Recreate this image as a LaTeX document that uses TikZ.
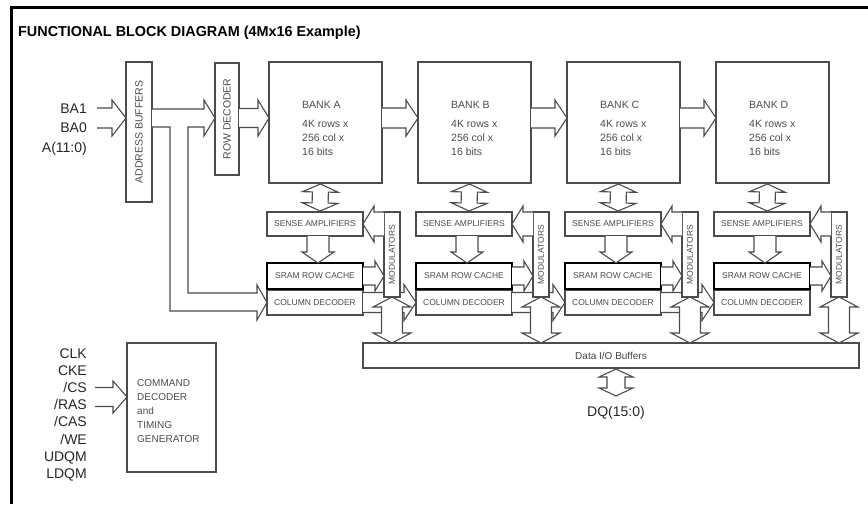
\documentclass[tikz,border=0pt]{standalone}
\usepackage{fontspec}
\setmainfont{Liberation Sans}
\usetikzlibrary{calc}

% hollow bus arrows: from, to, shaft half width, head half width, head length
\newcommand{\busarrow}[5]{%
  \coordinate (ba) at #1; \coordinate (bb) at #2;
  \coordinate (bh) at ($(bb)!#5!(ba)$);
  \filldraw[bus] ($(ba)!#3!90:(bb)$) -- ($(bh)!#3!90:(bb)$) -- ($(bh)!#4!90:(bb)$) -- (bb)
    -- ($(bh)!#4!-90:(bb)$) -- ($(bh)!#3!-90:(bb)$) -- ($(ba)!#3!-90:(bb)$);
}
\newcommand{\dbusarrow}[5]{%
  \coordinate (ba) at #1; \coordinate (bb) at #2;
  \coordinate (bg) at ($(ba)!#5!(bb)$);
  \coordinate (bh) at ($(bb)!#5!(ba)$);
  \filldraw[bus] (ba) -- ($(bg)!#4!90:(bb)$) -- ($(bg)!#3!90:(bb)$) -- ($(bh)!#3!90:(bb)$)
    -- ($(bh)!#4!90:(bb)$) -- (bb) -- ($(bh)!#4!-90:(bb)$) -- ($(bh)!#3!-90:(bb)$)
    -- ($(bg)!#3!-90:(bb)$) -- ($(bg)!#4!-90:(bb)$) -- cycle;
}

\tikzset{
  box/.style={draw=black!70, line width=1.2pt, fill=white, inner sep=0pt, outer sep=0pt, anchor=north west},
  cache/.style={box, draw=black, line width=2.6pt},
  bus/.style={draw=black!70, line width=1.1pt, fill=white},
  lbl/.style={font=\fontsize{14}{17}\selectfont, text=black!85, anchor=base east, inner sep=0pt},
  small/.style={font=\fontsize{8.5}{10}\selectfont, text=black!70},
  banktxt/.style={anchor=base west, inner sep=0pt, align=left, font=\fontsize{10.5}{14}\selectfont, text=black!70},
}

\begin{document}
\begin{tikzpicture}[x=1pt, y=-1pt]
\useasboundingbox (0,0) rectangle (868,504);
\draw[line width=3pt] (11,504) -- (11,7) -- (868,7);
\node[anchor=base west, inner sep=0pt, font=\bfseries\fontsize{14.4}{17}\selectfont] (title) at (18,36) {FUNCTIONAL BLOCK DIAGRAM (4Mx16 Example)};

% address path
\node[lbl] (ba1) at (87,113) {BA1};
\node[lbl] (ba0) at (87,132) {BA0};
\node[lbl] (addrin) at (87,152) {A(11:0)};
\node[box, minimum width=26pt, minimum height=140pt] (addr) at (126,62) {};
\node[rotate=90, font=\fontsize{10.5}{12}\selectfont, text=black!70] at (addr.center) {ADDRESS BUFFERS};
\node[box, minimum width=24pt, minimum height=112pt] (rowdec) at (215,63) {};
\node[rotate=90, font=\fontsize{10.5}{12}\selectfont, text=black!70] at (rowdec.center) {ROW DECODER};

% banks
\foreach \b [count=\i from 0] in {A,B,C,D}{
  \pgfmathsetmacro{\xo}{269+149*\i}
  \node[box, minimum width=113pt, minimum height=121pt] (bank\b) at (\xo,62) {};
  \node[banktxt] at ($(bank\b.north west)+(33,93)$) {BANK \b\\[5pt]4K rows x\\256 col x\\16 bits};
  \node[box, small, minimum width=96pt, minimum height=24pt] (sense\b) at (\xo-2,212) {SENSE AMPLIFIERS};
  \node[box, small, minimum width=96pt, minimum height=25pt] (coldec\b) at (\xo-2,290) {COLUMN DECODER};
  \node[cache, small, minimum width=96pt, minimum height=26pt] (sram\b) at (\xo-2,263) {SRAM ROW CACHE};
}
\node[box, font=\fontsize{10}{12}\selectfont, text=black!75, minimum width=496pt, minimum height=25pt] (dataio) at (363,343) {Data I/O Buffers};

% address buses
\busarrow{(97,118)}{($(addr.north west)+(0,56)$)}{10pt}{18pt}{14pt}
\filldraw[bus] (addr.east |- 0,109) -- (204,109) -- (204,100) -- (rowdec.west |- 0,118) -- (204,136) -- (204,127)
  -- (188,127) -- (188,293) -- (257,293) -- (257,285) -- (coldecA.west) -- (257,320) -- (257,311)
  -- (170,311) -- (170,127) -- (addr.east |- 0,127);
\busarrow{($(rowdec.north east)+(0,55)$)}{($(bankA.north west)+(0,56)$)}{9.5pt}{18pt}{11pt}
\foreach \b/\n in {A/B,B/C,C/D}{
  \busarrow{($(bank\b.north east)+(0,56)$)}{($(bank\n.north west)+(0,56)$)}{10pt}{18pt}{12pt}
  \busarrow{(coldec\b.east)}{(coldec\n.west)}{10pt}{18pt}{12pt}
}

% data paths
\foreach \b in {A,B,C,D}{
  \node[box, minimum width=16pt, minimum height=85pt] (gate\b) at ($(bank\b.north west)+(115,150)$) {};
  \node[rotate=90, small] at (gate\b.center) {MODULATORS};
  \dbusarrow{($(bank\b.south)+(-5,1)$)}{($(sense\b.north)+(5,-1)$)}{8pt}{18pt}{8pt}
  \busarrow{($(sense\b.south)+(3,0)$)}{($(sram\b.north)+(3,0)$)}{11pt}{16pt}{11pt}
  \busarrow{(gate\b.west |- sense\b.east)}{(sense\b.east)}{12pt}{18pt}{11pt}
  \busarrow{(sram\b.east)}{(gate\b.west |- sram\b.east)}{9pt}{15pt}{9pt}
  \dbusarrow{(gate\b.south)}{(gate\b.south |- dataio.north)}{10.5pt}{19pt}{10pt}
}
\dbusarrow{($(dataio.south)+(5,1)$)}{($(dataio.south)+(5,28)$)}{9pt}{17pt}{8pt}
\node[font=\fontsize{14}{17}\selectfont, text=black!85, anchor=base, inner sep=0pt] (dq) at (616,416) {DQ(15:0)};

% command path
\foreach \t [count=\i from 0] in {CLK,CKE,/CS,/RAS,/CAS,/WE,UDQM,LDQM}
  \node[lbl] (cmd\i) at (87,358+17.2*\i) {\t};
\node[box, minimum width=89pt, minimum height=129pt] (cmd) at (127,343) {};
\node[anchor=base west, inner sep=0pt, align=left, font=\fontsize{10}{14}\selectfont, text=black!70] at (137,442) {COMMAND\\DECODER\\and\\TIMING\\GENERATOR};
\busarrow{(95,397)}{($(cmd.north west)+(0,54)$)}{9.5pt}{16pt}{14pt}
\end{tikzpicture}
\end{document}
